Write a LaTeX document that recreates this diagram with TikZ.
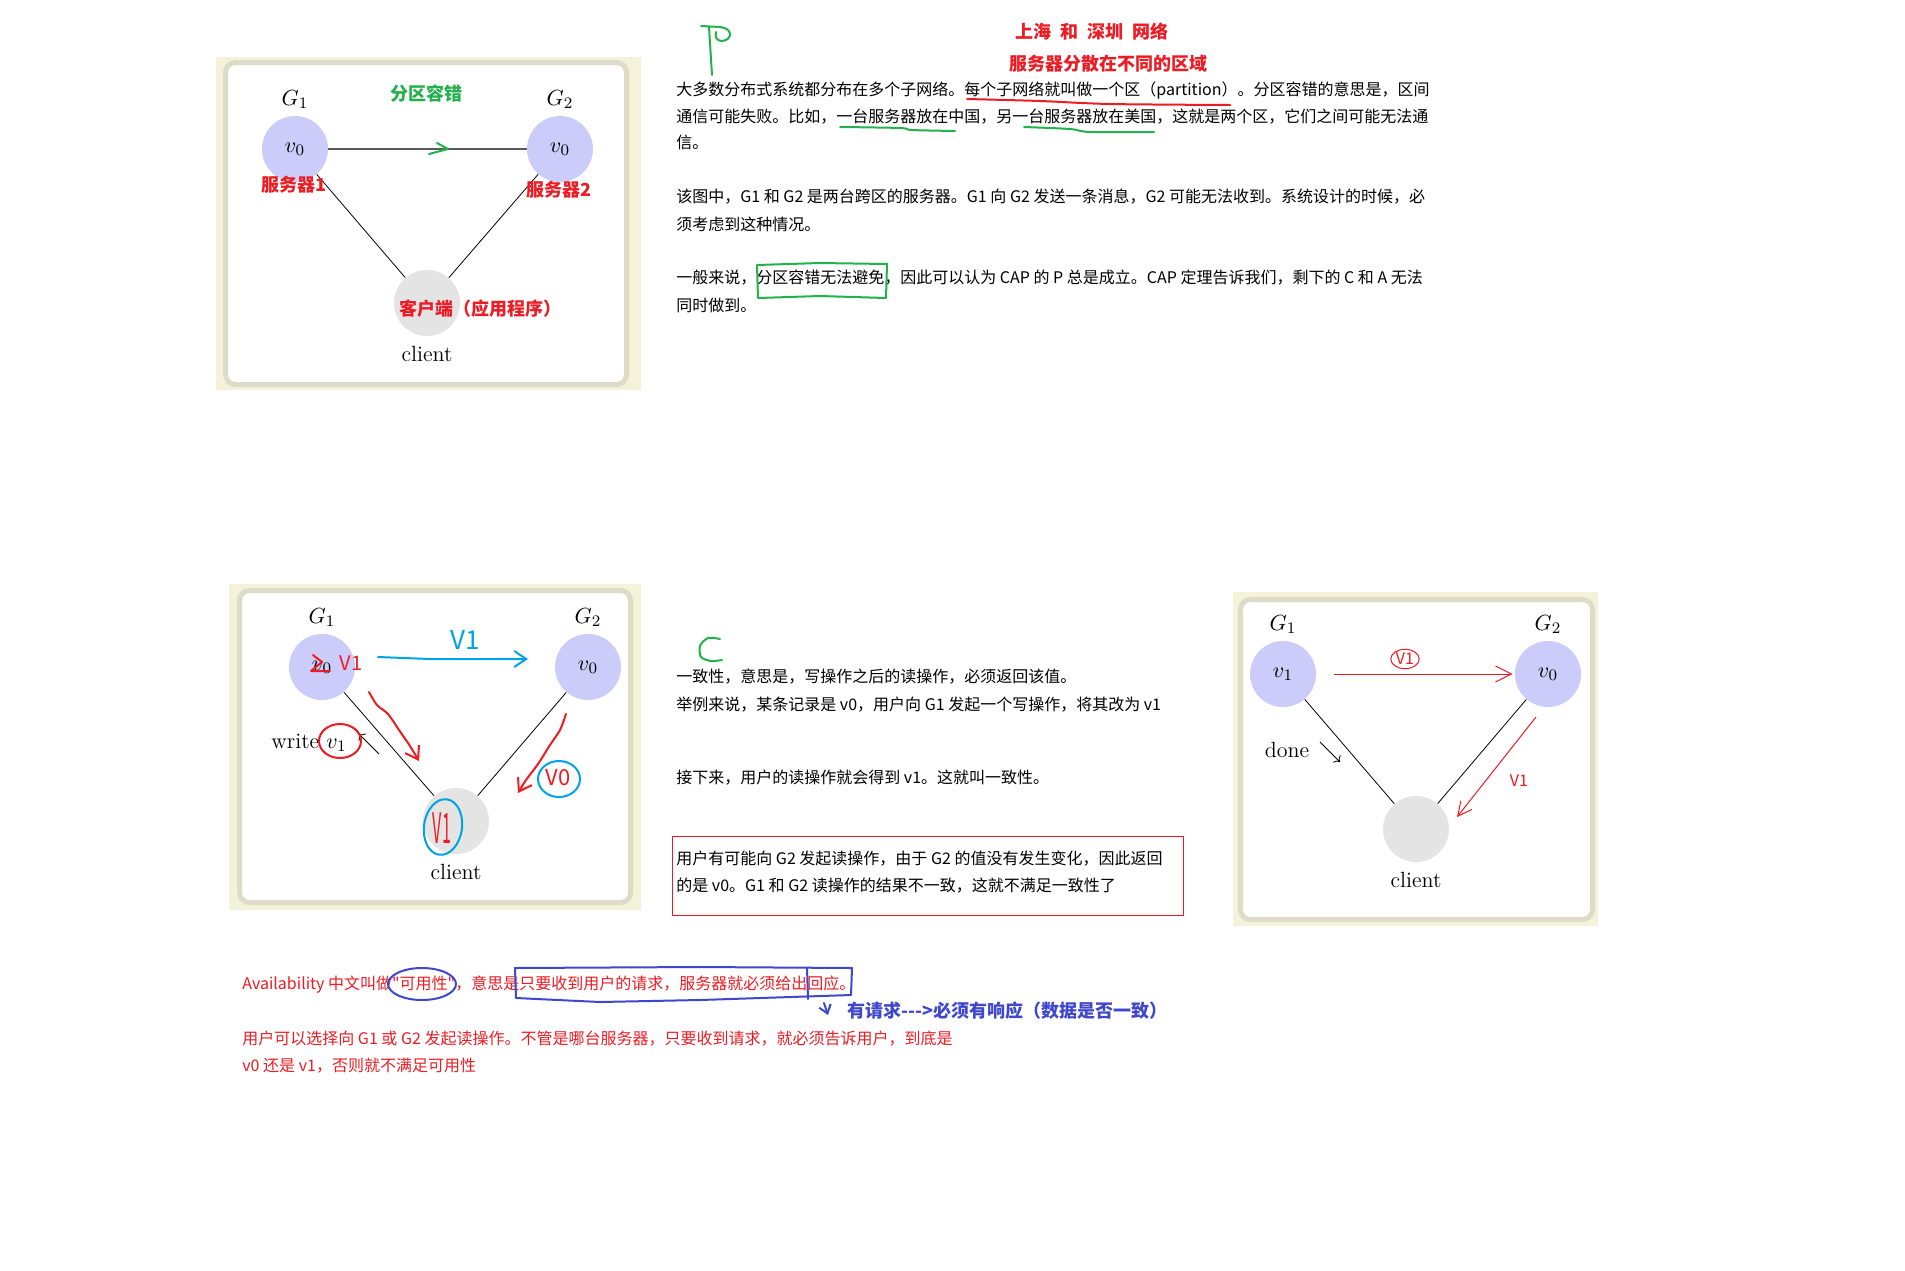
\documentclass[tikz,border=0pt]{standalone}
\usepackage{fontspec}
\newfontfamily\cjk{Noto Sans CJK SC}
\usetikzlibrary{arrows.meta,positioning,shapes.geometric}
\definecolor{panelbg}{HTML}{F4F2D8}
\definecolor{panelframe}{HTML}{DDDCC8}
\definecolor{srvfill}{HTML}{CCCCFA}
\definecolor{clifill}{HTML}{E4E4E4}
\definecolor{inkred}{HTML}{ED1C24}
\definecolor{inkgreen}{HTML}{22B14C}
\definecolor{inkblue}{HTML}{00A2E8}
\definecolor{inkindigo}{HTML}{3F48CC}

\begin{document}
\begin{tikzpicture}[
  x=0.5pt,y=-0.5pt,
  panel/.style={draw=panelframe,line width=2.5pt,fill=white,rounded corners=5pt},
  srv/.style={circle,fill=srvfill,minimum size=33pt,inner sep=0pt,font=\fontsize{11}{13}\selectfont},
  cli/.style={circle,fill=clifill,minimum size=33pt,inner sep=0pt},
  glab/.style={font=\fontsize{11}{13}\selectfont},
  link/.style={line width=0.4pt,black},
  txt/.style={anchor=west,inner sep=0pt,text height=6.8pt,text depth=1.6pt,
              font=\cjk\fontsize{8}{10}\selectfont},
  tag/.style={inner sep=0pt,font=\cjk\bfseries\fontsize{9}{11}\selectfont,text=inkred},
  hand/.style={inner sep=0pt,font=\cjk\fontsize{10}{10}\selectfont},
  pen/.style={line width=1pt,line cap=round,line join=round},
  thinpen/.style={line width=0.5pt},
  barb/.style={-{Straight Barb[length=6pt,width=8pt]}}
]
\fill[white] (0,0) rectangle (1905,1270);
\useasboundingbox (0,0) rectangle (1905,1270);

% ---------- panel P (partition)
\fill[panelbg] (216,57) rectangle (641,390);
\draw[panel] (225.5,62.5) rectangle (626.5,384.5);
\node[srv] (a1) at (295,149) {$v_0$};
\node[srv] (b1) at (560,149) {$v_0$};
\node[cli] (c1) at (427,303) {};
\node[glab,above=0pt of a1] (a1g) {$G_1$};
\node[glab,above=0pt of b1] (b1g) {$G_2$};
\node[glab,below=1.5pt of c1] (c1t) {client};
\draw[line width=0.6pt,black!65] (a1) -- (b1);
\draw[link] (a1) -- (c1);
\draw[link] (b1) -- (c1);
\draw[pen,inkgreen] (437,143) -- (448,149) -- (429,154);
\node[tag,text=inkgreen] (pt) at (426,94) {分区容错};
\node[tag] (s1) at (294,185) {服务器1};
\node[tag] (s2) at (559,190) {服务器2};
\node[tag] (app) at (480,309) {客户端（应用程序）};

% ---------- notes P
\draw[pen,inkgreen] (701,26) -- (720,27) .. controls (733,28) and (733,40) .. (722,41)
  .. controls (716,41) and (715,36) .. (716,32);
\draw[pen,inkgreen] (709,27) -- (712,75);
\node[tag] (h1) at (1092,32) {上海\enspace 和\enspace 深圳\enspace 网络};
\node[tag] (h2) at (1108,64) {服务器分散在不同的区域};
\node[txt] (p1a) at (676,90) {大多数分布式系统都分布在多个子网络。每个子网络就叫做一个区（partition）。分区容错的意思是，区间};
\node[txt] (p1b) at (676,117) {通信可能失败。比如，一台服务器放在中国，另一台服务器放在美国，这就是两个区，它们之间可能无法通};
\node[txt] (p1c) at (676,143) {信。};
\node[txt] (p2a) at (676,197) {该图中，G1 和 G2 是两台跨区的服务器。G1 向 G2 发送一条消息，G2 可能无法收到。系统设计的时候，必};
\node[txt] (p2b) at (676,225) {须考虑到这种情况。};
\node[txt] (p3a) at (676,278) {一般来说，分区容错无法避免，因此可以认为 CAP 的 P 总是成立。CAP 定理告诉我们，剩下的 C 和 A 无法};
\node[txt] (p3b) at (676,306) {同时做到。};
\draw[pen,inkred] plot[smooth] coordinates {(967,99) (1040,101) (1110,104) (1230,105)};
\draw[pen,inkgreen] plot[smooth] coordinates {(840,127) (900,128) (912,130) (955,131)};
\draw[pen,inkgreen] plot[smooth] coordinates {(1024,127) (1070,129) (1090,132) (1154,132)};
\draw[pen,inkgreen] (757,265) -- (820,263) -- (887,264) -- (886,298) -- (820,296) -- (758,298) -- cycle;

% ---------- panel C (consistency)
\fill[panelbg] (229,584) rectangle (641,910);
\draw[panel] (239.5,590.5) rectangle (630.5,902.5);
\node[srv] (a2) at (322,667) {$v_0$};
\node[srv] (b2) at (588,667) {$v_0$};
\node[cli] (c2) at (456,821) {};
\node[glab,above=0pt of a2] (a2g) {$G_1$};
\node[glab,above=0pt of b2] (b2g) {$G_2$};
\node[glab,below=1.5pt of c2] (c2t) {client};
\node[glab] (w2) at (309,743) {write $v_1$};
\draw[link] (a2) -- (c2);
\draw[link] (b2) -- (c2);
\coordinate (w2s) at (379,754);
\coordinate (w2e) at (359,734);
\draw[link,->] (w2s) -- (w2e);
\draw[pen,inkred] (313,655) -- (322,662) -- (311,671) -- (330,671);
\node[hand,text=inkred] (r2v) at (351,663) {V1};
\coordinate (q2s) at (378,657);
\coordinate (q2e) at (528,659);
\draw[pen,inkblue,barb] (q2s) -- (430,659) -- (q2e);
\node[hand,text=inkblue,font=\cjk\fontsize{13}{13}\selectfont] (b2v) at (465,640) {V1};
\draw[pen,inkred,barb] plot[smooth] coordinates {(369,692) (377,705) (388,714) (399,730) (410,746) (419,761)};
\draw[pen,inkred,barb] plot[smooth] coordinates {(566,714) (560,730) (550,745) (538,764) (526,780) (518,793)};
\node[hand,text=inkred,font=\cjk\fontsize{11}{11}\selectfont] (g2v) at (558,778) {V0};
\draw[pen,inkblue] (559,779) ellipse [x radius=21,y radius=18];
\draw[pen,inkred] (340,741) ellipse [x radius=21,y radius=17];
\node[hand,text=inkred] (c2v) at (442,828) {\scalebox{0.8}[2.1]{V1}};
\draw[pen,inkblue,rotate around={-8:(443,827)}] (443,827) ellipse [x radius=19,y radius=28];

% ---------- notes C
\draw[pen,inkgreen] plot[smooth] coordinates {(720,639) (708,638) (700,646) (701,657) (711,661) (722,660)};
\node[txt] (c1a) at (676,677) {一致性，意思是，写操作之后的读操作，必须返回该值。};
\node[txt] (c1b) at (676,705) {举例来说，某条记录是 v0，用户向 G1 发起一个写操作，将其改为 v1};
\node[txt] (c1c) at (676,778) {接下来，用户的读操作就会得到 v1。这就叫一致性。};
\draw[thinpen,inkred] (672,836) rectangle (1183,915);
\node[txt] (c2a) at (676,859) {用户有可能向 G2 发起读操作，由于 G2 的值没有发生变化，因此返回};
\node[txt] (c2b) at (676,886) {的是 v0。G1 和 G2 读操作的结果不一致，这就不满足一致性了};

% ---------- panel done
\fill[panelbg] (1233,592) rectangle (1598,926);
\draw[panel] (1240.5,599.5) rectangle (1592.5,919.5);
\node[srv] (a3) at (1283,674) {$v_1$};
\node[srv] (b3) at (1548,674) {$v_0$};
\node[cli] (c3) at (1416,829) {};
\node[glab,above=0pt of a3] (a3g) {$G_1$};
\node[glab,above=0pt of b3] (b3g) {$G_2$};
\node[glab,below=1.5pt of c3] (c3t) {client};
\node[glab] (d3) at (1287,750) {done};
\draw[link] (a3) -- (c3);
\draw[link] (b3) -- (c3);
\coordinate (d3s) at (1320,742);
\coordinate (d3e) at (1340,762);
\draw[link,->] (d3s) -- (d3e);
\draw[thinpen,inkred,-{Straight Barb[length=8pt,width=8pt]},shorten <=9pt,shorten >=1pt] (a3) -- (b3);
\node[ellipse,draw=inkred,thinpen,inner sep=0.5pt,text=inkred,font=\cjk\fontsize{8}{8}\selectfont] (t3) at (1405,659) {V1};
\coordinate (r3s) at (1536,717);
\coordinate (r3e) at (1457,817);
\draw[thinpen,inkred,-{Straight Barb[length=7pt,width=7pt]}] (r3s) -- (r3e);
\node[hand,text=inkred,font=\cjk\fontsize{8}{8}\selectfont] (r3v) at (1519,781) {V1};

% ---------- notes A
\node[txt,text=inkred] (a1a) at (242,984) {Availability 中文叫做"可用性"，意思是只要收到用户的请求，服务器就必须给出回应。};
\node[txt,text=inkred] (a1b) at (242,1039) {用户可以选择向 G1 或 G2 发起读操作。不管是哪台服务器，只要收到请求，就必须告诉用户，到底是};
\node[txt,text=inkred] (a1c) at (242,1066) {v0 还是 v1，否则就不满足可用性};
\node[txt,text=inkindigo,font=\cjk\bfseries\fontsize{9}{10}\selectfont] (ask) at (847,1012) {有请求-{}-{}->必须有响应（数据是否一致）};
\draw[pen,inkindigo] (422,984) ellipse [x radius=34,y radius=16];
\draw[pen,inkindigo] (515,968) -- (700,967) -- (852,968) -- (851,995) -- (700,1000) -- (600,1002) -- (516,998) -- cycle;
\draw[pen,inkindigo] (807,968) -- (808,999);
\coordinate (k1) at (824,1003);
\coordinate (k2) at (828,1015);
\draw[pen,inkindigo,-{Straight Barb[length=4pt,width=6pt]}] (k1) -- (k2);
\end{tikzpicture}
\end{document}
